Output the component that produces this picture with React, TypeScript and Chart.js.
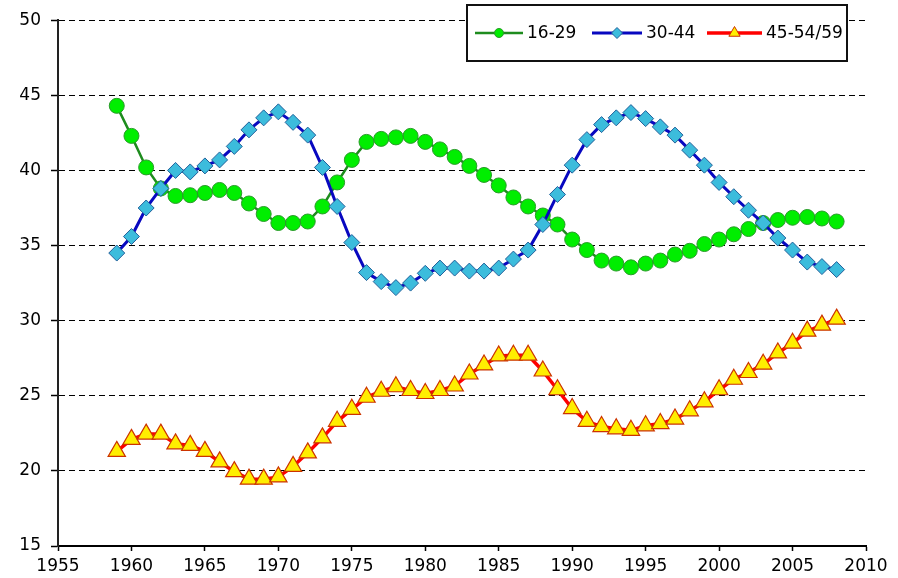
import React, { useEffect, useRef } from "react";
import { Chart, registerables } from "chart.js";

Chart.register(...registerables);

const years = [
  1959, 1960, 1961, 1962, 1963, 1964, 1965, 1966, 1967, 1968,
  1969, 1970, 1971, 1972, 1973, 1974, 1975, 1976, 1977, 1978,
  1979, 1980, 1981, 1982, 1983, 1984, 1985, 1986, 1987, 1988,
  1989, 1990, 1991, 1992, 1993, 1994, 1995, 1996, 1997, 1998,
  1999, 2000, 2001, 2002, 2003, 2004, 2005, 2006, 2007, 2008,
];

const age16to29 = [
  44.3, 42.3, 40.2, 38.8, 38.3, 38.35, 38.5, 38.7, 38.5, 37.8,
  37.1, 36.5, 36.5, 36.6, 37.6, 39.2, 40.7, 41.9, 42.1, 42.2,
  42.3, 41.9, 41.4, 40.9, 40.3, 39.7, 39.0, 38.2, 37.6, 37.0,
  36.4, 35.4, 34.7, 34.0, 33.8, 33.55, 33.8, 34.0, 34.4, 34.65,
  35.1, 35.4, 35.75, 36.1, 36.5, 36.7, 36.85, 36.9, 36.8, 36.6,
];

const age30to44 = [
  34.5, 35.6, 37.5, 38.8, 40.0, 39.9, 40.3, 40.7, 41.6, 42.7,
  43.5, 43.9, 43.2, 42.35, 40.2, 37.6, 35.2, 33.2, 32.6, 32.2,
  32.5, 33.15, 33.5, 33.5, 33.3, 33.3, 33.5, 34.1, 34.7, 36.4,
  38.4, 40.35, 42.05, 43.05, 43.5, 43.85, 43.45, 42.9, 42.35, 41.35,
  40.35, 39.2, 38.25, 37.35, 36.5, 35.5, 34.7, 33.9, 33.6, 33.4,
];

const age45to59 = [
  21.3, 22.1, 22.45, 22.45, 21.8, 21.7, 21.3, 20.6, 19.95, 19.45,
  19.45, 19.6, 20.3, 21.2, 22.2, 23.3, 24.1, 24.9, 25.3, 25.6,
  25.35, 25.15, 25.35, 25.65, 26.45, 27.05, 27.65, 27.7, 27.7, 26.65,
  25.4, 24.15, 23.3, 22.95, 22.8, 22.7, 23.0, 23.15, 23.45, 24.0,
  24.6, 25.4, 26.1, 26.55, 27.1, 27.85, 28.5, 29.3, 29.7, 30.1,
];

const seriesLabels = ["16-29", "30-44", "45-54/59"];
const xTicks = [1955, 1960, 1965, 1970, 1975, 1980, 1985, 1990, 1995, 2000, 2005, 2010];
const yTicks = [15, 20, 25, 30, 35, 40, 45, 50];

const FONT = "'DejaVu Sans', 'Liberation Sans', Arial, sans-serif";

const toPoints = (vals: number[]) => years.map((yr, i) => ({ x: yr, y: vals[i] }));

function drawMarker(ctx: CanvasRenderingContext2D, style: string, x: number, y: number, r: number) {
  ctx.beginPath();
  if (style === "circle") {
    ctx.arc(x, y, r, 0, Math.PI * 2);
  } else if (style === "rectRot") {
    ctx.moveTo(x - r, y);
    ctx.lineTo(x, y - r);
    ctx.lineTo(x + r, y);
    ctx.lineTo(x, y + r);
    ctx.closePath();
  } else {
    for (let k = 0; k < 3; k++) {
      const a = (k * 2 * Math.PI) / 3;
      const px = x + Math.sin(a) * r;
      const py = y - Math.cos(a) * r;
      if (k === 0) ctx.moveTo(px, py);
      else ctx.lineTo(px, py);
    }
    ctx.closePath();
  }
  ctx.fill();
  ctx.stroke();
}

const legendBoxPlugin = {
  id: "legendBox",
  afterDraw(chart: any) {
    const ctx: CanvasRenderingContext2D = chart.ctx;
    ctx.save();
    ctx.fillStyle = "#ffffff";
    ctx.fillRect(467, 5, 380, 56);
    ctx.strokeStyle = "#111111";
    ctx.lineWidth = 2;
    ctx.strokeRect(467, 5, 380, 56);
    const starts = [475, 592, 707];
    const lens = [48, 50, 55];
    const markerR = [4.5, 5.5, 6.5];
    const cy = 33;
    chart.data.datasets.forEach((ds: any, i: number) => {
      const x0 = starts[i];
      const len = lens[i];
      ctx.strokeStyle = ds.borderColor;
      ctx.lineWidth = ds.borderWidth;
      ctx.beginPath();
      ctx.moveTo(x0, cy);
      ctx.lineTo(x0 + len, cy);
      ctx.stroke();
      ctx.fillStyle = ds.pointBackgroundColor;
      ctx.strokeStyle = ds.pointBorderColor;
      ctx.lineWidth = 1;
      drawMarker(ctx, ds.pointStyle, x0 + len / 2, cy, markerR[i]);
      ctx.fillStyle = "#000000";
      ctx.font = `17px ${FONT}`;
      ctx.textBaseline = "middle";
      ctx.textAlign = "left";
      ctx.fillText(ds.label, x0 + len + 4, cy + 1);
    });
    ctx.restore();
  },
};

export default function App() {
  const canvasRef = useRef<HTMLCanvasElement | null>(null);

  useEffect(() => {
    const canvas = canvasRef.current;
    if (!canvas) return;
    const chart = new Chart(canvas, {
      type: "line",
      data: {
        datasets: [
          {
            label: seriesLabels[0],
            data: toPoints(age16to29),
            borderColor: "#1e8c1e",
            borderWidth: 2.5,
            pointStyle: "circle",
            pointRadius: 7.5,
            pointBackgroundColor: "#00ee00",
            pointBorderColor: "#2a9a2a",
            pointBorderWidth: 1,
            tension: 0,
            order: 2,
          },
          {
            label: seriesLabels[1],
            data: toPoints(age30to44),
            borderColor: "#0808c0",
            borderWidth: 3,
            pointStyle: "rectRot",
            pointRadius: 8,
            pointBackgroundColor: "#3cbcdc",
            pointBorderColor: "#22609a",
            pointBorderWidth: 1,
            tension: 0,
            order: 1,
          },
          {
            label: seriesLabels[2],
            data: toPoints(age45to59),
            borderColor: "#ff0000",
            borderWidth: 3.5,
            pointStyle: "triangle",
            pointRadius: 10,
            pointBackgroundColor: "#ffee00",
            pointBorderColor: "#cc3300",
            pointBorderWidth: 1.2,
            tension: 0,
            order: 0,
          },
        ],
      },
      options: {
        animation: false,
        responsive: false,
        devicePixelRatio: 1,
        layout: { padding: { top: 20, right: 32, left: 0, bottom: 0 } },
        plugins: {
          legend: { display: false },
          tooltip: { enabled: false },
          title: { display: false },
        },
        scales: {
          x: {
            type: "linear",
            min: xTicks[0],
            max: xTicks[xTicks.length - 1],
            afterBuildTicks: (scale: any) => {
              scale.ticks = xTicks.map((v) => ({ value: v }));
            },
            afterFit: (scale: any) => {
              scale.height = 32;
            },
            ticks: {
              color: "#000000",
              font: { family: FONT, size: 17 },
              padding: 5,
              maxRotation: 0,
              autoSkip: false,
              callback: (v: any) => String(v),
            },
            grid: {
              drawOnChartArea: false,
              drawTicks: true,
              tickLength: 5,
              tickColor: "#000000",
              tickWidth: 1.5,
            },
            border: { display: true, color: "#000000", width: 2 },
          },
          y: {
            type: "linear",
            min: yTicks[0],
            max: yTicks[yTicks.length - 1],
            afterBuildTicks: (scale: any) => {
              scale.ticks = yTicks.map((v) => ({ value: v }));
            },
            afterFit: (scale: any) => {
              scale.width = 58;
            },
            ticks: {
              color: "#000000",
              font: { family: FONT, size: 17 },
              padding: 10,
              autoSkip: false,
              callback: (v: any) => String(v),
            },
            grid: {
              color: (c: any) => (c.tick && c.tick.value === yTicks[0] ? "rgba(0,0,0,0)" : "#000000"),
              lineWidth: 1,
              drawTicks: true,
              tickLength: 7,
              tickColor: "#000000",
              tickWidth: 1.5,
            },
            border: { display: true, color: "#222222", width: 2, dash: [6, 4] },
          },
        },
      },
      plugins: [legendBoxPlugin],
    } as any);
    return () => chart.destroy();
  }, []);

  return (
    <div style={{ position: "absolute", left: 0, top: 0, width: 898, height: 578, background: "#ffffff" }}>
      <canvas ref={canvasRef} width={898} height={578} style={{ display: "block" }} />
    </div>
  );
}
